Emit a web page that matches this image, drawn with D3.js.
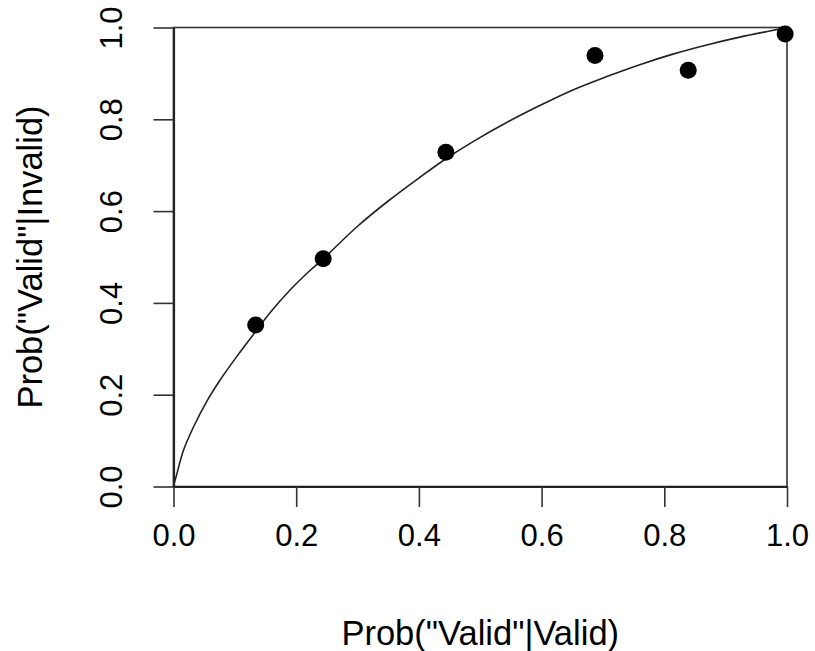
<!DOCTYPE html>
<html>
<head>
<meta charset="utf-8">
<script src="https://cdn.jsdelivr.net/npm/d3@7"></script>
<style>
  body { margin: 0; background: #fff; }
  text { font-family: "Liberation Sans", Arial, sans-serif; fill: #000; }
</style>
</head>
<body>
<script>
// observed points
var hitRate   = [0.134, 0.244, 0.444, 0.687, 0.839, 0.997];
var falseRate = [0.352, 0.496, 0.728, 0.939, 0.907, 0.986];

// fitted curve
var curveX = [0, 0.002, 0.005, 0.016, 0.032, 0.054, 0.076, 0.103, 0.134, 0.157, 0.19, 0.222, 0.244,
              0.3, 0.35, 0.4, 0.444, 0.489, 0.543, 0.597, 0.651, 0.706, 0.76, 0.814, 0.869, 0.923, 0.978, 1];
var curveY = [0, 0.011, 0.025, 0.078, 0.128, 0.185, 0.232, 0.283, 0.338, 0.378, 0.428, 0.47, 0.496,
              0.567, 0.622, 0.672, 0.714, 0.752, 0.793, 0.83, 0.864, 0.893, 0.919, 0.942, 0.962, 0.979, 0.994, 1];

var ticks = [0, 0.2, 0.4, 0.6, 0.8, 1.0];
var xTitle = 'Prob("Valid"|Valid)';
var yTitle = 'Prob("Valid"|Invalid)';

var W = 815, H = 651;
var plotL = 173.5, plotR = 787, plotT = 27.5, plotB = 486.5;

var svg = d3.select("body").append("svg")
            .attr("width", W)
            .attr("height", H);

var x = d3.scaleLinear().domain([0, 1]).range([plotL, plotR]);
var y = d3.scaleLinear().domain([0, 1]).range([plotB, plotT]);

var fmt = d3.format(".1f");

// box
svg.append("rect")
   .attr("x", plotL).attr("y", plotT)
   .attr("width", plotR - plotL).attr("height", plotB - plotT)
   .attr("fill", "none")
   .attr("stroke", "#333")
   .attr("stroke-width", 1.6);

// x axis
var gx = svg.append("g")
            .attr("transform", "translate(0," + plotB + ")")
            .call(d3.axisBottom(x).tickValues(ticks).tickFormat(fmt)
                    .tickSize(20.5).tickPadding(16.5).tickSizeOuter(0));
gx.select(".domain").attr("stroke", "#222").attr("stroke-width", 2.2);
gx.selectAll(".tick line").attr("stroke", "#333").attr("stroke-width", 1.6);
gx.selectAll(".tick text").style("font-size", "31px").attr("fill", "#111");

// y axis, labels parallel to the axis
var gy = svg.append("g")
            .attr("transform", "translate(" + plotL + ",0)")
            .call(d3.axisLeft(y).tickValues(ticks).tickFormat(fmt)
                    .tickSize(20).tickSizeOuter(0));
gy.select(".domain").attr("stroke", "#222").attr("stroke-width", 2.2);
gy.selectAll(".tick line").attr("stroke", "#333").attr("stroke-width", 1.6);
gy.selectAll(".tick text")
  .style("font-size", "31px")
  .attr("fill", "#111")
  .attr("x", 0).attr("y", 0).attr("dy", 0)
  .attr("text-anchor", "middle")
  .attr("transform", "translate(-51.5,0) rotate(-90)");

// fitted curve
var curvePts = curveX.map(function(d, i) { return [d, curveY[i]]; });
var line = d3.line()
             .x(function(d) { return x(d[0]); })
             .y(function(d) { return y(d[1]); })
             .curve(d3.curveCatmullRom);

svg.append("path")
   .datum(curvePts)
   .attr("d", line)
   .attr("fill", "none")
   .attr("stroke", "#222")
   .attr("stroke-width", 1.6);

// points
svg.selectAll("circle.pt")
   .data(hitRate)
   .enter()
   .append("circle")
   .attr("class", "pt")
   .attr("cx", function(d) { return x(d); })
   .attr("cy", function(d, i) { return y(falseRate[i]); })
   .attr("r", 8.5)
   .attr("fill", "#000");

// titles
svg.append("text")
   .attr("x", (plotL + plotR) / 2)
   .attr("y", 645)
   .attr("text-anchor", "middle")
   .attr("fill", "#111")
   .style("font-size", "34.5px")
   .text(xTitle);

svg.append("text")
   .attr("transform", "translate(42," + ((plotT + plotB) / 2) + ") rotate(-90)")
   .attr("text-anchor", "middle")
   .attr("fill", "#111")
   .style("font-size", "34.5px")
   .text(yTitle);
</script>
</body>
</html>
